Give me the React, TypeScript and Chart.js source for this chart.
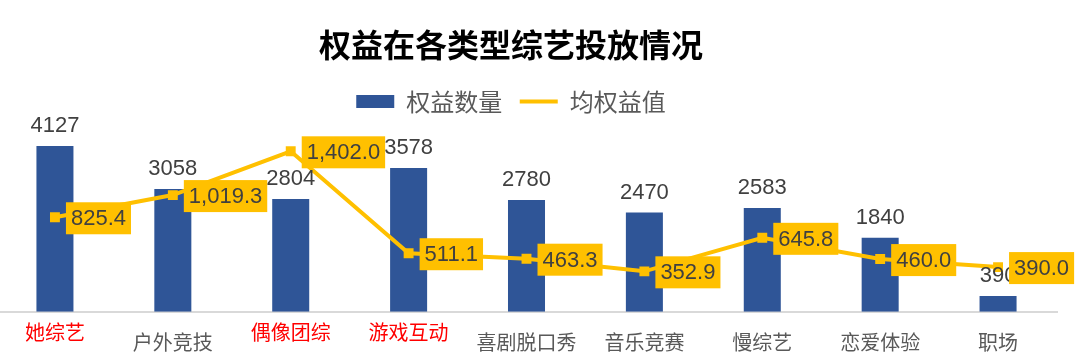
import React, { useEffect, useRef } from 'react';
import { Chart, registerables } from 'chart.js';

Chart.register(...registerables);

const titleText = '权益在各类型综艺投放情况';
const seriesNames = ['权益数量', '均权益值'];
const categories = ['她综艺', '户外竞技', '偶像团综', '游戏互动', '喜剧脱口秀', '音乐竞赛', '慢综艺', '恋爱体验', '职场'];
const highlighted = ['她综艺', '偶像团综', '游戏互动'];
const countValues = [4127, 3058, 2804, 3578, 2780, 2470, 2583, 1840, 390];
const avgValues = [825.4, 1019.3, 1402.0, 511.1, 463.3, 352.9, 645.8, 460.0, 390.0];

const BLUE = '#2F5597';
const GOLD = '#FFC000';
const LABEL_GRAY = '#404040';
const CJK = '"Noto Sans CJK SC", "Noto Sans", sans-serif';
const NUM = '"Liberation Sans", Arial, sans-serif';

const fmtAvg = (v: number) =>
  v.toLocaleString('en-US', { minimumFractionDigits: 1, maximumFractionDigits: 1 });

const isHighlighted = (i: number) => highlighted.includes(categories[i]);

const valueLabels = {
  id: 'valueLabels',
  afterDatasetsDraw(chart: any) {
    const ctx = chart.ctx;
    ctx.save();
    ctx.font = `22px ${NUM}`;
    // bar labels
    const barMeta = chart.getDatasetMeta(0);
    const barData = chart.data.datasets[0].data as number[];
    ctx.fillStyle = LABEL_GRAY;
    ctx.textAlign = 'center';
    ctx.textBaseline = 'alphabetic';
    barMeta.data.forEach((el: any, i: number) => {
      ctx.fillText(String(barData[i]), el.x, el.y - 14);
    });
    // line labels in boxes
    const lineMeta = chart.getDatasetMeta(1);
    const lineData = chart.data.datasets[1].data as number[];
    ctx.textAlign = 'left';
    ctx.textBaseline = 'middle';
    lineMeta.data.forEach((el: any, i: number) => {
      const txt = fmtAvg(lineData[i]);
      const w = ctx.measureText(txt).width + 10;
      const h = 32;
      const left = el.x + 11;
      const top = el.y + 1 - h / 2;
      ctx.fillStyle = GOLD;
      ctx.fillRect(left, top, w, h);
      ctx.fillStyle = LABEL_GRAY;
      ctx.fillText(txt, left + 5, el.y + 2);
    });
    ctx.restore();
  },
};

export default function App() {
  const ref = useRef<HTMLCanvasElement>(null);

  useEffect(() => {
    const chart = new Chart(ref.current as HTMLCanvasElement, {
      type: 'bar',
      data: {
        labels: categories,
        datasets: [
          {
            type: 'bar',
            label: seriesNames[0],
            data: countValues,
            backgroundColor: BLUE,
            borderWidth: 0,
            barPercentage: 0.314,
            categoryPercentage: 1.0,
            xAxisID: 'x',
            yAxisID: 'y',
            order: 1,
          },
          {
            type: 'line',
            label: seriesNames[1],
            data: avgValues,
            borderColor: GOLD,
            backgroundColor: GOLD,
            borderWidth: 4,
            pointStyle: 'rect',
            pointRadius: 7,
            pointBackgroundColor: GOLD,
            pointBorderColor: GOLD,
            pointBorderWidth: 0,
            tension: 0,
            xAxisID: 'x',
            yAxisID: 'y1',
            order: 0,
          },
        ] as any,
      },
      options: {
        responsive: false,
        animation: false,
        devicePixelRatio: 1,
        layout: { padding: 0 },
        plugins: {
          title: {
            display: true,
            text: titleText,
            color: '#000000',
            font: { family: CJK, size: 32, weight: 'bold', lineHeight: 1.2 },
            padding: { top: 25.8, bottom: 7.8 },
          },
          legend: {
            display: true,
            position: 'top',
            labels: {
              usePointStyle: true,
              pointStyleWidth: 38,
              boxHeight: 13,
              padding: 17.5,
              color: '#595959',
              font: { family: CJK, size: 24 },
              generateLabels: (c: any) =>
                c.data.datasets.map((ds: any, i: number) => ({
                  text: ds.label,
                  fillStyle: i === 0 ? BLUE : GOLD,
                  strokeStyle: i === 0 ? BLUE : GOLD,
                  lineWidth: i === 0 ? 0 : 4,
                  pointStyle: i === 0 ? 'rect' : 'line',
                  lineCap: 'butt',
                  lineDash: [],
                  lineDashOffset: 0,
                  lineJoin: 'miter',
                  hidden: false,
                  datasetIndex: i,
                  fontColor: '#595959',
                })),
            },
          },
          tooltip: { enabled: false },
        },
        scales: {
          x: {
            type: 'category',
            position: 'bottom',
            offset: true,
            grid: { display: false, drawTicks: false },
            border: { display: true, color: '#D9D9D9', width: 2 },
            ticks: {
              autoSkip: false,
              maxRotation: 0,
              padding: 8.3,
              color: (c: any) => (isHighlighted(c.index) ? '#FF0000' : '#595959'),
              font: (c: any) => ({
                family: CJK,
                size: 20,
                lineHeight: isHighlighted(c.index) ? 1.2 : 2.25,
              }),
            },
            afterFit: (s: any) => {
              s.height = 47.3;
            },
          },
          y: {
            position: 'left',
            min: 0,
            max: 4687,
            grid: { display: false },
            border: { display: false },
            ticks: { display: false },
            afterFit: (s: any) => {
              s.width = 54;
            },
          },
          y1: {
            position: 'right',
            min: 0,
            max: 1645,
            grid: { display: false },
            border: { display: false },
            ticks: { display: false },
            afterFit: (s: any) => {
              s.width = 23;
            },
          },
        } as any,
      },
      plugins: [valueLabels],
    });
    return () => chart.destroy();
  }, []);

  return (
    <div style={{ position: 'absolute', left: -58, top: 0, width: 1138, height: 359 }}>
      <canvas ref={ref} width={1138} height={359} style={{ display: 'block' }} />
    </div>
  );
}
